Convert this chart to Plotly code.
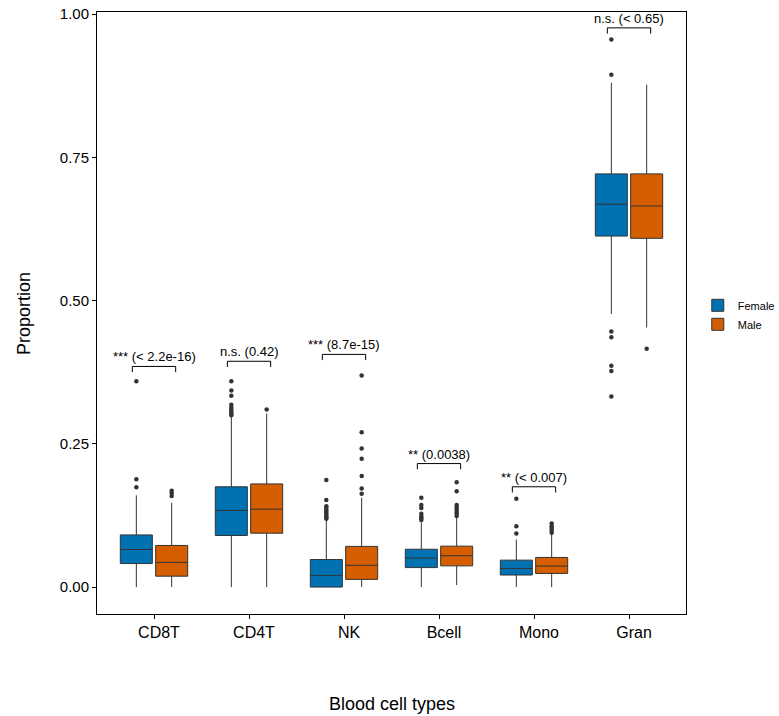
import plotly.graph_objects as go

categories = ["CD8T", "CD4T", "NK", "Bcell", "Mono", "Gran"]

# Female box statistics
f_q1 = [0.041, 0.090, 0.000, 0.034, 0.021, 0.6125]
f_med = [0.0656, 0.1336, 0.020, 0.0505, 0.0325, 0.668]
f_q3 = [0.091, 0.175, 0.048, 0.066, 0.047, 0.721]
f_lo = [0.0, 0.0, 0.0, 0.0, 0.0, 0.4765]
f_hi = [0.160, 0.298, 0.116, 0.113, 0.083, 0.880]
f_out = [
    [0.174, 0.188, 0.359],
    [0.359, 0.343, 0.334, 0.318, 0.313, 0.309, 0.306, 0.303, 0.300],
    [0.119, 0.122, 0.125, 0.128, 0.131, 0.134, 0.138, 0.141, 0.152, 0.187],
    [0.117, 0.120, 0.123, 0.128, 0.138, 0.143, 0.156],
    [0.0935, 0.106, 0.154],
    [0.894, 0.9556, 0.446, 0.436, 0.386, 0.377, 0.3325],
]

# Male box statistics
m_q1 = [0.019, 0.094, 0.0134, 0.037, 0.0238, 0.6086]
m_med = [0.043, 0.1359, 0.038, 0.0546, 0.0366, 0.665]
m_q3 = [0.0726, 0.180, 0.071, 0.0714, 0.0517, 0.721]
m_lo = [0.0, 0.0, 0.0, 0.0035, 0.0, 0.453]
m_hi = [0.147, 0.303, 0.156, 0.121, 0.092, 0.8766]
m_out = [
    [0.159, 0.164, 0.168],
    [0.310],
    [0.163, 0.172, 0.194, 0.224, 0.2416, 0.270, 0.369],
    [0.124, 0.128, 0.131, 0.135, 0.139, 0.143, 0.167, 0.183],
    [0.095, 0.099, 0.103, 0.106, 0.111],
    [0.416],
]

# Significance labels
p_labels = ["*** (< 2.2e-16)", "n.s. (0.42)", "*** (8.7e-15)", "** (0.0038)", "** (< 0.007)", "n.s. (< 0.65)"]
bracket_y = [0.385, 0.394, 0.406, 0.2155, 0.175, 0.9758]

female_col = "#0072B2"
male_col = "#D55E00"
line_col = "#333333"
dodge = 0.186
box_w = 0.337
half_br = 0.228
tick_drop = 0.010

idx = list(range(len(categories)))
fx = [i - dodge for i in idx]
mx = [i + dodge for i in idx]

fig = go.Figure()

fig.add_trace(go.Box(x=fx, q1=f_q1, median=f_med, q3=f_q3, lowerfence=f_lo, upperfence=f_hi,
                     width=box_w, fillcolor=female_col, line=dict(color=line_col, width=1),
                     whiskerwidth=0, boxpoints=False, name="Female", hoverinfo="skip"))
fig.add_trace(go.Box(x=mx, q1=m_q1, median=m_med, q3=m_q3, lowerfence=m_lo, upperfence=m_hi,
                     width=box_w, fillcolor=male_col, line=dict(color=line_col, width=1),
                     whiskerwidth=0, boxpoints=False, name="Male", hoverinfo="skip"))

ox, oy = [], []
for i, outs in enumerate(f_out):
    for v in outs:
        ox.append(fx[i]); oy.append(v)
for i, outs in enumerate(m_out):
    for v in outs:
        ox.append(mx[i]); oy.append(v)
fig.add_trace(go.Scatter(x=ox, y=oy, mode="markers", marker=dict(color=line_col, size=4.5),
                         showlegend=False, hoverinfo="skip"))

# brackets
bx, by = [], []
for i, yb in enumerate(bracket_y):
    bx += [i - half_br, i - half_br, i + half_br, i + half_br, None]
    by += [yb - tick_drop, yb, yb, yb - tick_drop, None]
fig.add_trace(go.Scatter(x=bx, y=by, mode="lines", line=dict(color="black", width=1),
                         showlegend=False, hoverinfo="skip"))

annotations = []
for i, (lab, yb) in enumerate(zip(p_labels, bracket_y)):
    annotations.append(dict(x=i, y=yb, xref="x", yref="y", text=lab, showarrow=False,
                            yanchor="bottom", yshift=0, font=dict(size=13, color="black")))
annotations.append(dict(x=0.5, y=-0.150, xref="paper", yref="paper", text="Blood cell types",
                        showarrow=False, yanchor="middle", font=dict(size=18, color="black")))
annotations.append(dict(x=-0.124, y=0.5, xref="paper", yref="paper", text="Proportion",
                        showarrow=False, textangle=-90, xanchor="center", font=dict(size=18, color="black")))

fig.update_layout(
    width=779, height=716,
    margin=dict(l=97, r=93, t=12, b=102, autoexpand=False),
    paper_bgcolor="white", plot_bgcolor="white",
    font=dict(family="Liberation Sans, Arial, sans-serif", color="black"),
    boxmode="overlay",
    showlegend=True,
    legend=dict(x=1.02, y=0.497, xanchor="left", yanchor="middle", bgcolor="white",
                font=dict(size=11), tracegroupgap=2),
    annotations=annotations,
)
fig.update_xaxes(range=[-0.6, 5.6], tickvals=idx, ticktext=categories, showgrid=False, zeroline=False,
                 showline=True, linecolor="black", linewidth=1, mirror=True, ticklabelshift=5,
                 ticks="outside", ticklen=4, tickcolor="black", tickfont=dict(size=16, color="black"))
fig.update_yaxes(range=[-0.047, 1.0035], tickvals=[0, 0.25, 0.5, 0.75, 1.0],
                 ticktext=["0.00", "0.25", "0.50", "0.75", "1.00"], showgrid=False, zeroline=False,
                 showline=True, linecolor="black", linewidth=1, mirror=True,
                 ticks="outside", ticklen=4, tickcolor="black", tickfont=dict(size=15, color="black"))

fig.write_html("out.html")
